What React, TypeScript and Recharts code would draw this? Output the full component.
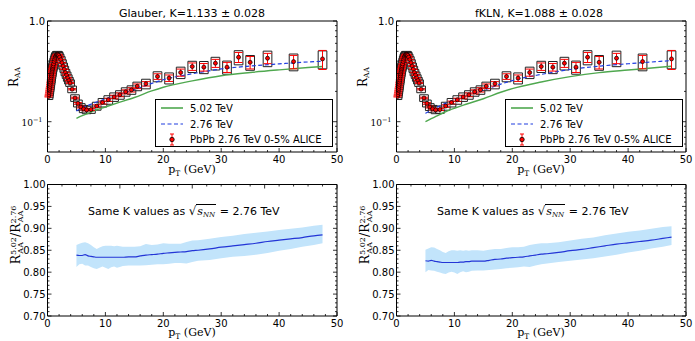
import React from "react";
import { ComposedChart, Line, Scatter, ErrorBar, XAxis, YAxis, ReferenceArea, Area } from "recharts";

// ---------- ALICE PbPb 2.76 TeV 0-5% data ----------
const PT = [0.175,0.225,0.275,0.325,0.375,0.425,0.475,0.525,0.575,0.625,0.675,0.725,0.775,0.825,0.875,0.925,0.975,
  1.05,1.15,1.25,1.35,1.45,1.55,1.65,1.75,1.85,1.95,
  2.1,2.3,2.5,2.7,2.9,3.1,3.3,3.5,3.7,3.9,
  4.25,4.75,5.25,5.75,6.25,6.75,7.5,
  8.5,9.5,10.5,11.5,12.5,13.5,14.5,15.5,
  17,19,21,23,25,27,29,31,33,35,38,42.5,47.5];
const RAA = [0.178,0.186,0.195,0.204,0.214,0.224,0.235,0.247,0.259,0.272,0.285,0.298,0.311,0.324,0.336,0.348,0.359,
  0.375,0.397,0.418,0.436,0.45,0.46,0.466,0.467,0.463,0.455,
  0.437,0.413,0.385,0.357,0.332,0.308,0.29,0.272,0.256,0.242,
  0.21,0.172,0.152,0.14,0.134,0.131,0.132,
  0.143,0.155,0.165,0.176,0.185,0.198,0.207,0.225,
  0.238,0.281,0.271,0.308,0.353,0.348,0.381,0.348,0.437,0.389,0.427,0.395,0.42];
const STAT = [0.002,0.002,0.002,0.002,0.002,0.002,0.002,0.002,0.002,0.002,0.002,0.002,0.002,0.002,0.002,0.002,0.002,
  0.002,0.002,0.002,0.002,0.002,0.002,0.002,0.002,0.002,0.002,
  0.002,0.002,0.002,0.002,0.002,0.002,0.002,0.002,0.002,0.002,
  0.003,0.003,0.003,0.003,0.003,0.003,0.003,
  0.004,0.005,0.006,0.007,0.008,0.009,0.01,0.012,
  0.012,0.018,0.02,0.025,0.03,0.03,0.035,0.04,0.05,0.055,0.05,0.06,0.09];
const SYS = [0.012,0.013,0.013,0.014,0.015,0.015,0.016,0.017,0.018,0.019,0.02,0.021,0.022,0.023,0.024,0.025,0.026,
  0.027,0.028,0.029,0.03,0.031,0.032,0.032,0.032,0.032,0.031,
  0.03,0.029,0.027,0.025,0.023,0.022,0.021,0.02,0.019,0.018,
  0.016,0.013,0.012,0.011,0.011,0.011,0.011,
  0.013,0.015,0.016,0.017,0.018,0.019,0.02,0.022,
  0.026,0.032,0.034,0.04,0.045,0.048,0.055,0.052,0.07,0.065,0.075,0.075,0.085];

// ---------- model curves ----------
const CURVE_PT = [5,6,7,8,10,12,15,18,20,25,30,35,40,45,47.5];
const GLAUBER_276 = [0.128,0.137,0.145,0.153,0.168,0.184,0.208,0.24,0.261,0.299,0.334,0.357,0.375,0.392,0.399];
const GLAUBER_502 = [0.108,0.115,0.121,0.128,0.14,0.153,0.174,0.202,0.22,0.254,0.286,0.308,0.327,0.345,0.353];
const FKLN_276 = [0.121,0.13,0.139,0.148,0.165,0.181,0.205,0.236,0.256,0.295,0.33,0.356,0.376,0.395,0.405];
const FKLN_502 = [0.1,0.107,0.114,0.122,0.136,0.149,0.169,0.196,0.213,0.248,0.28,0.307,0.326,0.345,0.356];

// ---------- ratio 5.02 / 2.76 ----------
const RATIO_PT = [5,5.5,6,6.5,7,7.5,8,8.5,9,9.5,10,10.5,11,11.5,12,12.5,
  13,14,15,16,17,18,19,20,21,22,23,24,25,26,
  28,30,32,34,36,38,40,42,44,46,47.5];
const GL_LO = [0.812,0.818,0.819,0.815,0.815,0.812,0.809,0.807,0.81,0.813,0.81,0.807,0.811,0.813,0.81,0.812,
  0.814,0.815,0.815,0.815,0.816,0.817,0.818,0.818,0.819,0.821,0.821,0.82,0.823,0.826,
  0.828,0.832,0.835,0.837,0.84,0.844,0.849,0.853,0.858,0.862,0.866];
const GL_MID = [0.839,0.838,0.838,0.84,0.837,0.836,0.835,0.834,0.834,0.834,0.834,0.834,0.834,0.834,0.834,0.834,
  0.834,0.835,0.835,0.837,0.839,0.84,0.841,0.843,0.844,0.845,0.846,0.847,0.849,0.85,
  0.853,0.857,0.86,0.863,0.866,0.87,0.873,0.876,0.879,0.883,0.885];
const GL_HI = [0.862,0.865,0.867,0.868,0.866,0.862,0.857,0.853,0.856,0.859,0.86,0.86,0.86,0.859,0.86,0.859,
  0.858,0.858,0.858,0.859,0.864,0.862,0.863,0.866,0.865,0.865,0.865,0.869,0.872,0.873,
  0.876,0.88,0.883,0.887,0.89,0.893,0.896,0.899,0.902,0.906,0.908];
const FK_LO = [0.8,0.805,0.804,0.803,0.801,0.799,0.797,0.796,0.799,0.801,0.799,0.796,0.8,0.802,0.8,0.801,
  0.803,0.804,0.804,0.805,0.806,0.807,0.809,0.81,0.811,0.813,0.812,0.815,0.818,0.82,
  0.823,0.826,0.829,0.832,0.836,0.84,0.845,0.849,0.854,0.858,0.862];
const FK_MID = [0.826,0.825,0.827,0.825,0.824,0.823,0.822,0.822,0.822,0.822,0.822,0.822,0.823,0.823,0.824,0.824,
  0.825,0.825,0.825,0.827,0.829,0.83,0.832,0.833,0.834,0.835,0.837,0.839,0.841,0.842,
  0.845,0.849,0.852,0.856,0.86,0.864,0.867,0.87,0.873,0.877,0.88];
const FK_HI = [0.851,0.854,0.857,0.856,0.853,0.85,0.846,0.844,0.848,0.85,0.85,0.849,0.85,0.849,0.85,0.849,
  0.85,0.85,0.849,0.851,0.853,0.853,0.855,0.857,0.857,0.858,0.862,0.864,0.866,0.866,
  0.868,0.872,0.876,0.879,0.884,0.888,0.892,0.895,0.899,0.903,0.905];

// ---------- ticks ----------
const X_MAJOR = [0,10,20,30,40,50];
const X_MINOR = [2,4,6,8,12,14,16,18,22,24,26,28,32,34,36,38,42,44,46,48];
const LOG_MAJOR = [0.1,1];
const LOG_MINOR = [0.06,0.07,0.08,0.09,0.2,0.3,0.4,0.5,0.6,0.7,0.8,0.9];
const R_MAJOR = [0.7,0.75,0.8,0.85,0.9,0.95,1.0];
const R_MINOR = [0.71,0.72,0.73,0.74,0.76,0.77,0.78,0.79,0.81,0.82,0.83,0.84,0.86,0.87,0.88,0.89,0.91,0.92,0.93,0.94,0.96,0.97,0.98,0.99];

const BOX_HW = 0.75;
const GREEN = "#4fa84f";
const BLUE = "#1f3de0";
const RED = "#ff0000";
const BAND = "#c2e4fb";
const RLINE = "#2335d6";
const SANS = "DejaVu Sans";
const SERIF = "DejaVu Serif";

const near = (v: number, list: number[]) => list.some((m) => Math.abs(m - v) < 1e-6);

const xTick = (side: "bottom" | "top", labels: boolean) => (p: any) => {
  const v = p.payload.value;
  const major = near(v, X_MAJOR);
  const len = major ? 4 : 2;
  const d = side === "bottom" ? -1 : 1;
  return (
    <g>
      <line x1={p.x} x2={p.x} y1={p.y} y2={p.y + d * len} stroke="#000" strokeWidth={0.8} />
      {labels && major ? (
        <text x={p.x} y={p.y + 10.5} textAnchor="middle" fontSize={10} fontFamily={SANS} fill="#000">{v}</text>
      ) : null}
    </g>
  );
};

const yTick = (majors: number[], side: "left" | "right", label: ((v: number, x: number, y: number) => React.ReactNode) | null) => (p: any) => {
  const v = p.payload.value;
  const major = near(v, majors);
  const len = major ? 4 : 2;
  const d = side === "left" ? 1 : -1;
  return (
    <g>
      <line x1={p.x} x2={p.x + d * len} y1={p.y} y2={p.y} stroke="#000" strokeWidth={0.8} />
      {label && major ? label(v, p.x, p.y) : null}
    </g>
  );
};

const logLabel = (v: number, x: number, y: number) =>
  v >= 1 ? (
    <text x={x - 2.5} y={y + 3.6} textAnchor="end" fontSize={10} fontFamily={SANS} fill="#000">1.0</text>
  ) : (
    <text x={x - 5} y={y + 4} textAnchor="end" fontSize={9} fontFamily={SERIF} fill="#000">
      <tspan>10</tspan>
      <tspan dy={-4} fontSize={6.5}>−1</tspan>
    </text>
  );

const ratioLabel = (v: number, x: number, y: number) => (
  <text x={x - 2} y={y + 3.6} textAnchor="end" fontSize={10} fontFamily={SANS} fill="#000">{v.toFixed(2)}</text>
);

const redDot = (p: any) => (
  <circle cx={p.cx} cy={p.cy} r={2} fill={RED} stroke="#000" strokeWidth={0.7} />
);

type TopProps = { left: number; title: string; blue: number[]; green: number[]; legendLeft: number; titleX: number };

function TopPanel({ left, title, blue, green, legendLeft, titleX }: TopProps) {
  const alice = PT.map((pt, i) => ({ pt, y: RAA[i], e: STAT[i] }));
  const blueData = CURVE_PT.map((pt, i) => ({ pt, y: blue[i] }));
  const greenData = CURVE_PT.map((pt, i) => ({ pt, y: green[i] }));
  const xt = [...X_MAJOR, ...X_MINOR];
  const yt = [...LOG_MAJOR, ...LOG_MINOR];
  return (
    <div style={{ position: "absolute", left, top: 0, width: 345, height: 175 }}>
      <ComposedChart width={345} height={175} margin={{ top: 0, right: 0, bottom: 0, left: 0 }}>
        <XAxis dataKey="pt" type="number" domain={[0, 50]} ticks={xt} interval={0} allowDataOverflow
          height={23} tickSize={0} tickMargin={0} tickLine={false} axisLine={{ stroke: "#000" }} tick={xTick("bottom", true)} />
        <XAxis xAxisId="top" orientation="top" type="number" domain={[0, 50]} ticks={xt} interval={0} allowDataOverflow
          height={21} tickSize={0} tickMargin={0} tickLine={false} axisLine={{ stroke: "#000" }} tick={xTick("top", false)} />
        <YAxis type="number" scale="log" domain={[0.05, 1]} ticks={yt} interval={0} allowDataOverflow
          width={47.5} tickSize={0} tickMargin={0} tickLine={false} axisLine={{ stroke: "#000" }} tick={yTick(LOG_MAJOR, "left", logLabel)} />
        <YAxis yAxisId="right" orientation="right" type="number" scale="log" domain={[0.05, 1]} ticks={yt} interval={0} allowDataOverflow
          width={8} tickSize={0} tickMargin={0} tickLine={false} axisLine={{ stroke: "#000" }} tick={yTick(LOG_MAJOR, "right", null)} />
        {PT.map((pt, i) => (
          <ReferenceArea key={"b" + i} x1={pt - BOX_HW} x2={pt + BOX_HW} y1={RAA[i] - SYS[i]} y2={RAA[i] + SYS[i]}
            fill="#ffffff" fillOpacity={0.35} stroke="#222" strokeWidth={1} ifOverflow="hidden" />
        ))}
        <Line data={greenData} dataKey="y" stroke={GREEN} strokeWidth={1.4} dot={false} activeDot={false} isAnimationActive={false} type="monotone" />
        <Line data={blueData} dataKey="y" stroke={BLUE} strokeWidth={1.2} strokeDasharray="4 2.5" dot={false} activeDot={false} isAnimationActive={false} type="monotone" />
        <Scatter data={alice} dataKey="y" shape={redDot} isAnimationActive={false}>
          <ErrorBar dataKey="e" direction="y" stroke={RED} width={4} strokeWidth={1} />
        </Scatter>
      </ComposedChart>
      <svg width={345} height={180} style={{ position: "absolute", left: 0, top: 0, pointerEvents: "none", overflow: "visible" }}>
        <text x={titleX} y={17.3} textAnchor="middle" fontSize={11} fontFamily={SANS} fill="#000">{title}</text>
        <text transform="translate(17.5,77) rotate(-90)" textAnchor="middle" fontSize={12} fontFamily={SERIF} fill="#000">
          R<tspan dy={2.5} fontSize={7.5}>AA</tspan>
        </text>
        <text x={192} y={173} textAnchor="middle" fontSize={11} fontFamily={SERIF} fill="#000">
          p<tspan dy={2.5} fontSize={7.5}>T</tspan><tspan dy={-2.5}> (GeV)</tspan>
        </text>
      </svg>
      <div style={{ position: "absolute", left: legendLeft, top: 99, width: 176, height: 46, border: "1px solid #000", background: "#fff", fontFamily: SANS, fontSize: 10, color: "#000" }}>
        <svg width={176} height={46} style={{ position: "absolute", left: 0, top: 0 }}>
          <line x1={5} x2={27} y1={8} y2={8} stroke={GREEN} strokeWidth={1.6} />
          <line x1={5} x2={27} y1={24} y2={24} stroke={BLUE} strokeWidth={1.2} strokeDasharray="4 2.5" />
          <line x1={16} x2={16} y1={34} y2={45} stroke={RED} strokeWidth={1} />
          <line x1={14} x2={18} y1={34} y2={34} stroke={RED} strokeWidth={1} />
          <line x1={14} x2={18} y1={45} y2={45} stroke={RED} strokeWidth={1} />
          <circle cx={16} cy={39.5} r={2.2} fill={RED} stroke="#000" strokeWidth={0.8} />
          <text x={34} y={11.6} fontSize={10} fontFamily={SANS} fill="#000">5.02 TeV</text>
          <text x={34} y={27.6} fontSize={10} fontFamily={SANS} fill="#000">2.76 TeV</text>
          <text x={34} y={43.2} fontSize={10} fontFamily={SANS} fill="#000">PbPb 2.76 TeV 0-5% ALICE</text>
        </svg>
      </div>
    </div>
  );
}

type BotProps = { left: number; lo: number[]; mid: number[]; hi: number[]; noteLeft: number };

function BottomPanel({ left, lo, mid, hi, noteLeft }: BotProps) {
  const data = RATIO_PT.map((pt, i) => ({ pt, band: [lo[i], hi[i]], y: mid[i] }));
  const xt = [...X_MAJOR, ...X_MINOR];
  const yt = [...R_MAJOR, ...R_MINOR];
  return (
    <div style={{ position: "absolute", left, top: 175, width: 345, height: 166 }}>
      <ComposedChart width={345} height={166} data={data} margin={{ top: 0, right: 0, bottom: 0, left: 0 }}>
        <XAxis dataKey="pt" type="number" domain={[0, 50]} ticks={xt} interval={0} allowDataOverflow
          height={25} tickSize={0} tickMargin={0} tickLine={false} axisLine={{ stroke: "#000" }} tick={xTick("bottom", true)} />
        <XAxis xAxisId="top" orientation="top" type="number" domain={[0, 50]} ticks={xt} interval={0} allowDataOverflow
          height={9.5} tickSize={0} tickMargin={0} tickLine={false} axisLine={{ stroke: "#000" }} tick={xTick("top", false)} />
        <YAxis type="number" domain={[0.7, 1.0]} ticks={yt} interval={0} allowDataOverflow
          width={47.5} tickSize={0} tickMargin={0} tickLine={false} axisLine={{ stroke: "#000" }} tick={yTick(R_MAJOR, "left", ratioLabel)} />
        <YAxis yAxisId="right" orientation="right" type="number" domain={[0.7, 1.0]} ticks={yt} interval={0} allowDataOverflow
          width={8} tickSize={0} tickMargin={0} tickLine={false} axisLine={{ stroke: "#000" }} tick={yTick(R_MAJOR, "right", null)} />
        <Area dataKey="band" stroke="none" fill={BAND} fillOpacity={1} isAnimationActive={false} type="linear" activeDot={false} />
        <Line dataKey="y" stroke={RLINE} strokeWidth={1.2} dot={false} activeDot={false} isAnimationActive={false} type="monotone" />
      </ComposedChart>
      <svg width={345} height={166} style={{ position: "absolute", left: 0, top: 0, pointerEvents: "none", overflow: "visible" }}>
        <text transform="translate(20,60) rotate(-90)" textAnchor="middle" fontSize={12.5} fontFamily={SERIF} fill="#000">
          R<tspan dy={-4.5} fontSize={8}>5.02</tspan><tspan dy={7.5} dx={-16.5} fontSize={8}>AA</tspan><tspan dy={-3} dx={5}>/R</tspan><tspan dy={-4.5} fontSize={8}>2.76</tspan><tspan dy={7.5} dx={-16.5} fontSize={8}>AA</tspan>
        </text>
        <text x={192} y={161} textAnchor="middle" fontSize={11} fontFamily={SERIF} fill="#000">
          p<tspan dy={2.5} fontSize={7.5}>T</tspan><tspan dy={-2.5}> (GeV)</tspan>
        </text>
      </svg>
      <div style={{ position: "absolute", left: noteLeft, top: 29, whiteSpace: "nowrap", fontFamily: SANS, fontSize: 11, lineHeight: "14px", color: "#000" }}>
        Same K values as <span style={{ fontSize: 12 }}>√</span>
        <span style={{ borderTop: "1px solid #000", fontFamily: SERIF, fontStyle: "italic", padding: "0 1px" }}>
          s<span style={{ fontSize: 7, position: "relative", top: 2 }}>NN</span>
        </span> = 2.76 TeV
      </div>
    </div>
  );
}

export default function App() {
  return (
    <div style={{ position: "absolute", left: 0, top: 0, width: 695, height: 341, background: "#fff", overflow: "hidden" }}>
      <TopPanel left={0} title="Glauber, K=1.133 ± 0.028" blue={GLAUBER_276} green={GLAUBER_502} legendLeft={155} titleX={192} />
      <TopPanel left={349} title="fKLN, K=1.088 ± 0.028" blue={FKLN_276} green={FKLN_502} legendLeft={156} titleX={190} />
      <BottomPanel left={0} lo={GL_LO} mid={GL_MID} hi={GL_HI} noteLeft={88} />
      <BottomPanel left={349} lo={FK_LO} mid={FK_MID} hi={FK_HI} noteLeft={88} />
    </div>
  );
}
